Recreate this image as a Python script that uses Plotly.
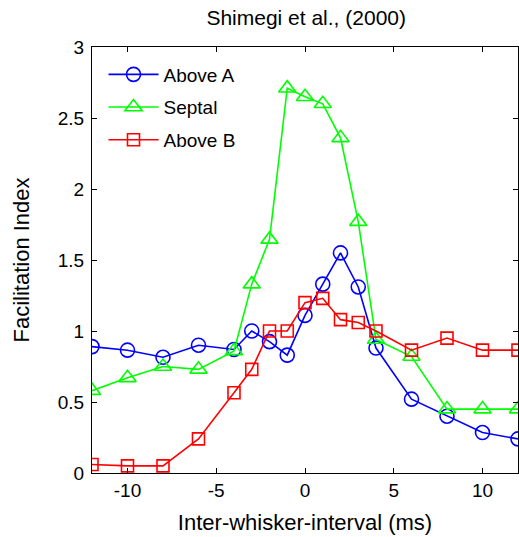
import plotly.graph_objects as go

x_vals = [-12, -10, -8, -6, -4, -3, -2, -1, 0, 1, 2, 3, 4, 6, 8, 10, 12]
above_a = [0.89, 0.865, 0.815, 0.90, 0.87, 1.00, 0.925, 0.83, 1.11, 1.33, 1.55, 1.31, 0.88, 0.52, 0.40, 0.285, 0.24]
septal = [0.58, 0.67, 0.75, 0.73, 0.86, 1.33, 1.645, 2.71, 2.65, 2.60, 2.36, 1.77, 0.94, 0.82, 0.45, 0.45, 0.45]
above_b = [0.06, 0.05, 0.05, 0.24, 0.565, 0.73, 1.00, 1.00, 1.20, 1.23, 1.08, 1.06, 1.00, 0.865, 0.95, 0.865, 0.865]

series_names = ["Above A", "Septal", "Above B"]
colors = ["#0000FF", "#00FF00", "#FF0000"]
symbols = ["circle-open", "triangle-up-open", "square-open"]
sizes = [14, 15, 12]

x_ticks = [-10, -5, 0, 5, 10]
y_ticks = [0, 0.5, 1, 1.5, 2, 2.5, 3]
y_ticklabels = ["0", "0.5", "1", "1.5", "2", "2.5", "3"]

FONT = "Liberation Sans, Arial, sans-serif"

fig = go.Figure()
for i, (name, ys) in enumerate(zip(series_names, [above_a, septal, above_b])):
    fig.add_trace(go.Scatter(
        x=x_vals, y=ys, name=name, mode="lines+markers",
        line=dict(color=colors[i], width=1.6),
        marker=dict(symbol=symbols[i], size=sizes[i], color=colors[i],
                    line=dict(color=colors[i], width=1.6)),
        legendgroup=name, cliponaxis=True,
    ))

axis_common = dict(
    showline=True, linecolor="black", linewidth=1, mirror="ticks",
    ticks="inside", ticklen=5, tickcolor="black", tickwidth=1,
    showgrid=False, zeroline=False,
    tickfont=dict(family=FONT, size=19, color="black"),
)

fig.update_xaxes(range=[-12, 12], tickvals=x_ticks, ticktext=[str(t) for t in x_ticks],
                 title=dict(text="Inter-whisker-interval (ms)", font=dict(family=FONT, size=22, color="black"), standoff=14),
                 **axis_common)
fig.update_yaxes(range=[0, 3], tickvals=y_ticks, ticktext=y_ticklabels, ticklabelstandoff=3,
                 title=dict(text="Facilitation Index", font=dict(family=FONT, size=22, color="black"), standoff=22),
                 **axis_common)

fig.update_layout(
    width=519, height=537,
    margin=dict(l=92, r=1, t=47, b=64),
    paper_bgcolor="white", plot_bgcolor="white",
    title=dict(text="Shimegi et al., (2000)", x=0.59, xanchor="center", y=0.967, yanchor="middle",
               font=dict(family=FONT, size=21, color="black")),
    showlegend=True,
    legend=dict(x=0.027, y=0.98, xanchor="left", yanchor="top",
                font=dict(family=FONT, size=19, color="black"),
                bgcolor="rgba(0,0,0,0)", borderwidth=0, itemwidth=50,
                traceorder="grouped", tracegroupgap=5),
)

fig.write_html("out.html")
